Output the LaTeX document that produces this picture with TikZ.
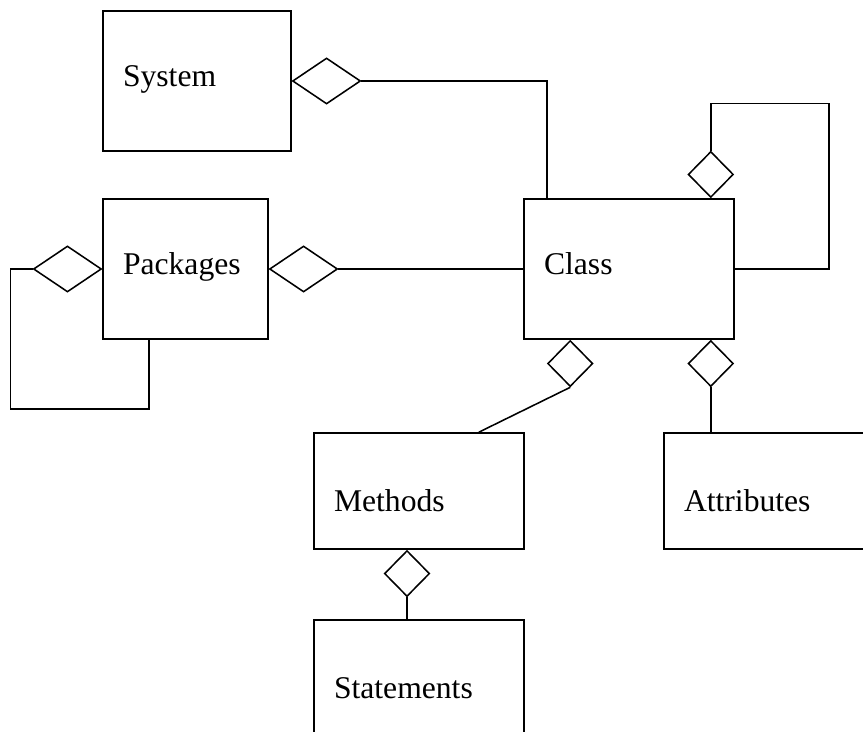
\documentclass[tikz,border=0pt]{standalone}
\usepackage{fontspec}
\setmainfont{Liberation Serif}
\usetikzlibrary{positioning,shapes.geometric}
\tikzset{
  boxbase/.style={
    draw,
    line width=1.1pt,
    align=left,
    inner xsep=0.5cm,
    inner ysep=0pt
  },
  umlbox/.style={boxbase, execute at begin node={\rule[-0.35em]{0pt}{1.05em}}},
  lowbox/.style={boxbase, execute at begin node={\rule[-0.2em]{0pt}{1.7em}}},
  aggdia/.style={diamond, draw, line width=1.1pt, inner sep=0pt, fill=white},
  hdia/.style={aggdia, minimum width=1.7cm, minimum height=1.15cm},
  vdia/.style={aggdia, minimum width=1.13cm, minimum height=1.15cm},
  link/.style={line width=1.1pt}
}

\begin{document}
\begin{tikzpicture}[x=1cm,y=1cm, font=\fontsize{22.5}{26}\selectfont]
  \useasboundingbox (0,0) rectangle (21.575,18.275);
  \clip (0,0) rectangle (21.575,18.275);

  % boxes
  \node[umlbox, text width=3.7cm, minimum height=3.5cm] (system) at (4.925,16.25) {System};
  \node[umlbox, text width=3.125cm, minimum height=3.5cm] (packages) at (4.6375,11.55) {Packages};
  \node[umlbox, text width=4.25cm, minimum height=3.5cm] (class) at (15.725,11.55) {Class};
  \node[lowbox, text width=4.25cm, minimum height=2.9cm] (methods) at (10.475,6.0) {Methods};
  \node[lowbox, text width=4.25cm, minimum height=2.9cm] (attributes) at (19.225,6.0) {Attributes};
  \node[lowbox, text width=4.25cm, minimum height=2.9cm] (statements) at (10.475,1.325) {Statements};

  % aggregation diamonds
  \node[hdia, anchor=west] (sysdia) at (system.east) {};
  \node[hdia, anchor=west] (pkgdia) at (packages.east) {};
  \node[hdia, anchor=east] (pkgself) at (packages.west) {};
  \node[vdia, anchor=south] (classself) at ([xshift=-0.6cm]class.north east) {};
  \node[vdia, anchor=north] (methdia) at ([xshift=1.175cm]class.south west) {};
  \node[vdia, anchor=north] (attrdia) at ([xshift=-0.6cm]class.south east) {};
  \node[vdia, anchor=north] (stmtdia) at ([xshift=-0.3cm]methods.south) {};

  % links
  \draw[link] (sysdia.east) -| ([xshift=0.6cm]class.north west);
  \draw[link] (pkgdia.east) -- (class.west);
  \draw[link] (pkgself.west) -- ++(-0.55,0) -- ++(0,-3.5) -| ([xshift=1.175cm]packages.south west);
  \draw[link] (classself.north) -- ++(0,1.175) -- ++(2.95,0) |- (class.east);
  \draw[link] (methdia.south) -- ([xshift=-1.15cm]methods.north east);
  \draw[link] (attrdia.south) -- (attrdia.south |- attributes.north);
  \draw[link] (stmtdia.south) -- (stmtdia.south |- statements.north);
\end{tikzpicture}
\end{document}
